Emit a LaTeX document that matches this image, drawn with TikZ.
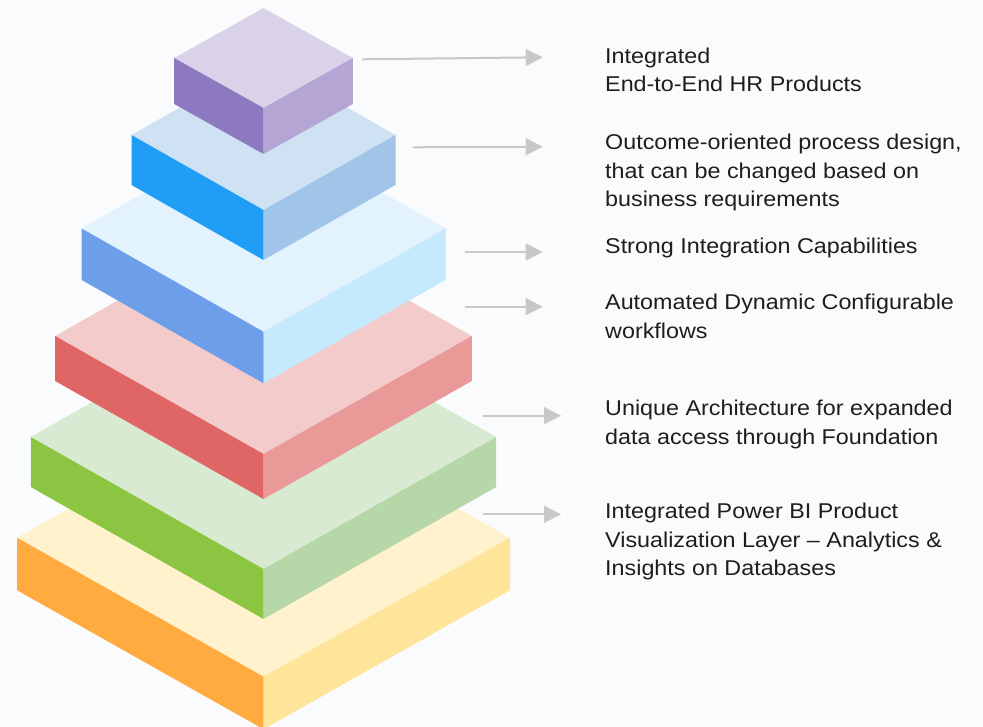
\documentclass[tikz,border=0pt]{standalone}
\usepackage{fontspec}
\setmainfont{Liberation Sans}[FakeStretch=1.09]
\usetikzlibrary{arrows.meta}
\definecolor{bgc}{RGB}{250,251,253}
\definecolor{txtc}{RGB}{30,30,30}
\definecolor{arrc}{RGB}{200,200,200}
\definecolor{puT}{HTML}{DAD2E9}\definecolor{puL}{HTML}{8C79C0}\definecolor{puR}{HTML}{B4A5D5}
\definecolor{blT}{HTML}{CFE2F3}\definecolor{blL}{HTML}{209DF5}\definecolor{blR}{HTML}{A0C5E8}
\definecolor{lbT}{HTML}{E3F3FE}\definecolor{lbL}{HTML}{6C9EEA}\definecolor{lbR}{HTML}{C5E9FD}
\definecolor{reT}{HTML}{F4CBCB}\definecolor{reL}{HTML}{E06666}\definecolor{reR}{HTML}{EA9999}
\definecolor{grT}{HTML}{D9EAD3}\definecolor{grL}{HTML}{8BC541}\definecolor{grR}{HTML}{B6D7A8}
\definecolor{orT}{HTML}{FFF2CC}\definecolor{orL}{HTML}{FFAB40}\definecolor{orR}{HTML}{FFE599}
% #1 top y, #2 half width, #3 half height, #4 thickness, #5 top, #6 left, #7 right
\newcommand\pyrlayer[7]{%
  \fill[#5] (263.5,#1) -- ++(#2,#3) -- ++(-#2,#3) -- ++(-#2,-#3) -- cycle;
  \fill[#6] (263.5,#1) ++(-#2,#3) -- ++(#2,#3) -- ++(0,#4) -- ++(-#2,-#3) -- cycle;
  \fill[#7] (263.5,#1) ++(#2,#3) -- ++(-#2,#3) -- ++(0,#4) -- ++(#2,-#3) -- cycle;
}
\tikzset{
  txt/.style={anchor=base west, inner sep=0pt, align=left, text=txtc,
    font=\fontsize{21.4}{28.4}\selectfont},
  arr/.style={draw=arrc, line width=2pt, -{Triangle[length=17pt,width=17pt]}}
}
\begin{document}
\begin{tikzpicture}[x=1pt,y=-1pt]
\useasboundingbox (0,0) rectangle (983,727);
\fill[bgc] (0,0) rectangle (983,727);
\begin{scope}
\clip (0,0) rectangle (983,727);
\pyrlayer{398.7}{246.5}{139}{52.5}{orT}{orL}{orR}
\pyrlayer{305}{232.7}{132}{50}{grT}{grL}{grR}
\pyrlayer{218}{208.3}{118}{45}{reT}{reL}{reR}
\pyrlayer{125}{182}{103.4}{51.5}{lbT}{lbL}{lbR}
\pyrlayer{60}{132}{75}{50}{blT}{blL}{blR}
\pyrlayer{8}{89.3}{50}{46}{puT}{puL}{puR}
\end{scope}
% arrows
\coordinate (a1s) at (362,59.3);   \coordinate (a1e) at (542.7,57.3);
\coordinate (a2s) at (413,147.3);  \coordinate (a2e) at (542.7,146.7);
\coordinate (a3s) at (464.7,252);  \coordinate (a3e) at (542.7,252);
\coordinate (a4s) at (464.7,306.7);\coordinate (a4e) at (542.7,306.7);
\coordinate (a5s) at (482.7,415.7);\coordinate (a5e) at (561,415.7);
\coordinate (a6s) at (482.7,514.3);\coordinate (a6e) at (561,514.3);
\draw[arr] (a1s) -- (a1e);
\draw[arr] (a2s) -- (a2e);
\draw[arr] (a3s) -- (a3e);
\draw[arr] (a4s) -- (a4e);
\draw[arr] (a5s) -- (a5e);
\draw[arr] (a6s) -- (a6e);
% labels (base anchor = baseline of the last line)
\node[txt] (t1) at (605,91.7) {Integrated\\End-to-End HR Products};
\node[txt] (t2) at (605,206.7) {Outcome-oriented process design,\\that can be changed based on\\business requirements};
\node[txt] (t3) at (605,253.3) {Strong Integration Capabilities};
\node[txt] (t4) at (605,338.3) {Automated Dynamic Configurable\\workflows};
\node[txt] (t5) at (605,444) {Unique Architecture for expanded\\data access through Foundation};
\node[txt] (t6) at (605,575.7) {Integrated Power BI Product\\Visualization Layer – Analytics \&\\Insights on Databases};
\end{tikzpicture}
\end{document}
